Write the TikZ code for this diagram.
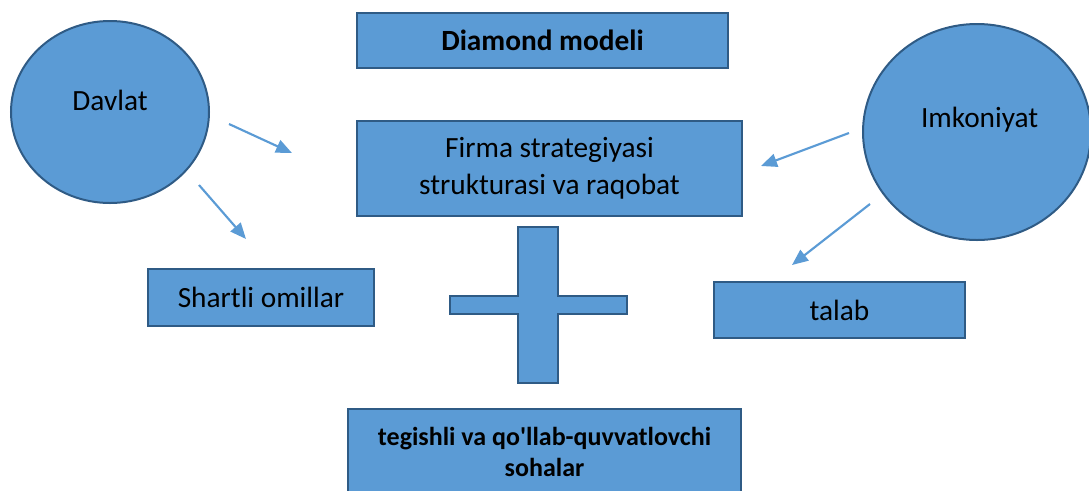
\documentclass[tikz,border=0pt]{standalone}
\usepackage{fontspec}
\setmainfont{Carlito}
\usetikzlibrary{shapes.geometric,arrows.meta}
\definecolor{boxfill}{HTML}{5B9BD5}
\definecolor{boxline}{HTML}{2F5B85}
\definecolor{arrowcol}{HTML}{5B9BD5}
\begin{document}
\begin{tikzpicture}[x=0.75pt,y=-0.75pt,
  boxstyle/.style={draw=boxline,fill=boxfill,line width=1.5pt,rectangle,inner sep=0pt,
    font=\fontsize{22}{27.75}\selectfont,align=center},
  ovalstyle/.style={draw=boxline,fill=boxfill,line width=1.5pt,ellipse,inner sep=0pt},
  ovaltext/.style={font=\fontsize{22}{26}\selectfont},
  arrowstyle/.style={draw=arrowcol,line width=1.6pt,-{Triangle[length=12pt,width=10pt]}}]
\useasboundingbox (0,0) rectangle (1089,490);

% title and central boxes
\node[boxstyle,minimum width=278.25pt,minimum height=41.25pt,font=\fontsize{22}{26}\selectfont\bfseries]
  (title) at (542.5,40.5) {Diamond modeli};
\node[boxstyle,minimum width=288.75pt,minimum height=71.25pt] (firma) at (549.5,168.5)
  {Firma strategiyasi\\strukturasi va raqobat};
\node[boxstyle,minimum width=169.5pt,minimum height=42.75pt] (shartli) at (261,297.5) {Shartli omillar};
\node[boxstyle,minimum width=188.25pt,minimum height=42pt] (talab) at (839.5,310) {talab};
\node[boxstyle,minimum width=294.75pt,minimum height=64pt,anchor=north,
  font=\fontsize{19.5}{23}\selectfont\bfseries] (sohalar) at (544.5,408)
  {tegishli va qo\textquotesingle llab-quvvatlovchi\\sohalar};

% plus sign
\draw[draw=boxline,fill=boxfill,line width=1.5pt]
  (518,227) -- (558,227) -- (558,296) -- (627,296) -- (627,314) -- (558,314) -- (558,383)
  -- (518,383) -- (518,314) -- (450,314) -- (450,296) -- (518,296) -- cycle;

% ovals
\node[ovalstyle,minimum width=148.5pt,minimum height=136.5pt,
  label={[ovaltext,yshift=9pt]center:Davlat}] (davlat) at (110,112) {};
\node[ovalstyle,minimum width=171pt,minimum height=162pt,
  label={[ovaltext,yshift=9pt,xshift=2pt]center:Imkoniyat}] (imkon) at (977,132) {};

% arrow end points
\coordinate (d1s) at (229,124);
\coordinate (d1e) at (292,153);
\coordinate (d2s) at (199,185);
\coordinate (d2e) at (246,239);
\coordinate (i1s) at (849,133);
\coordinate (i1e) at (761,166);
\coordinate (i2s) at (870,204);
\coordinate (i2e) at (792,265);
\draw[arrowstyle] (d1s) -- (d1e);
\draw[arrowstyle] (d2s) -- (d2e);
\draw[arrowstyle] (i1s) -- (i1e);
\draw[arrowstyle] (i2s) -- (i2e);
\end{tikzpicture}
\end{document}
